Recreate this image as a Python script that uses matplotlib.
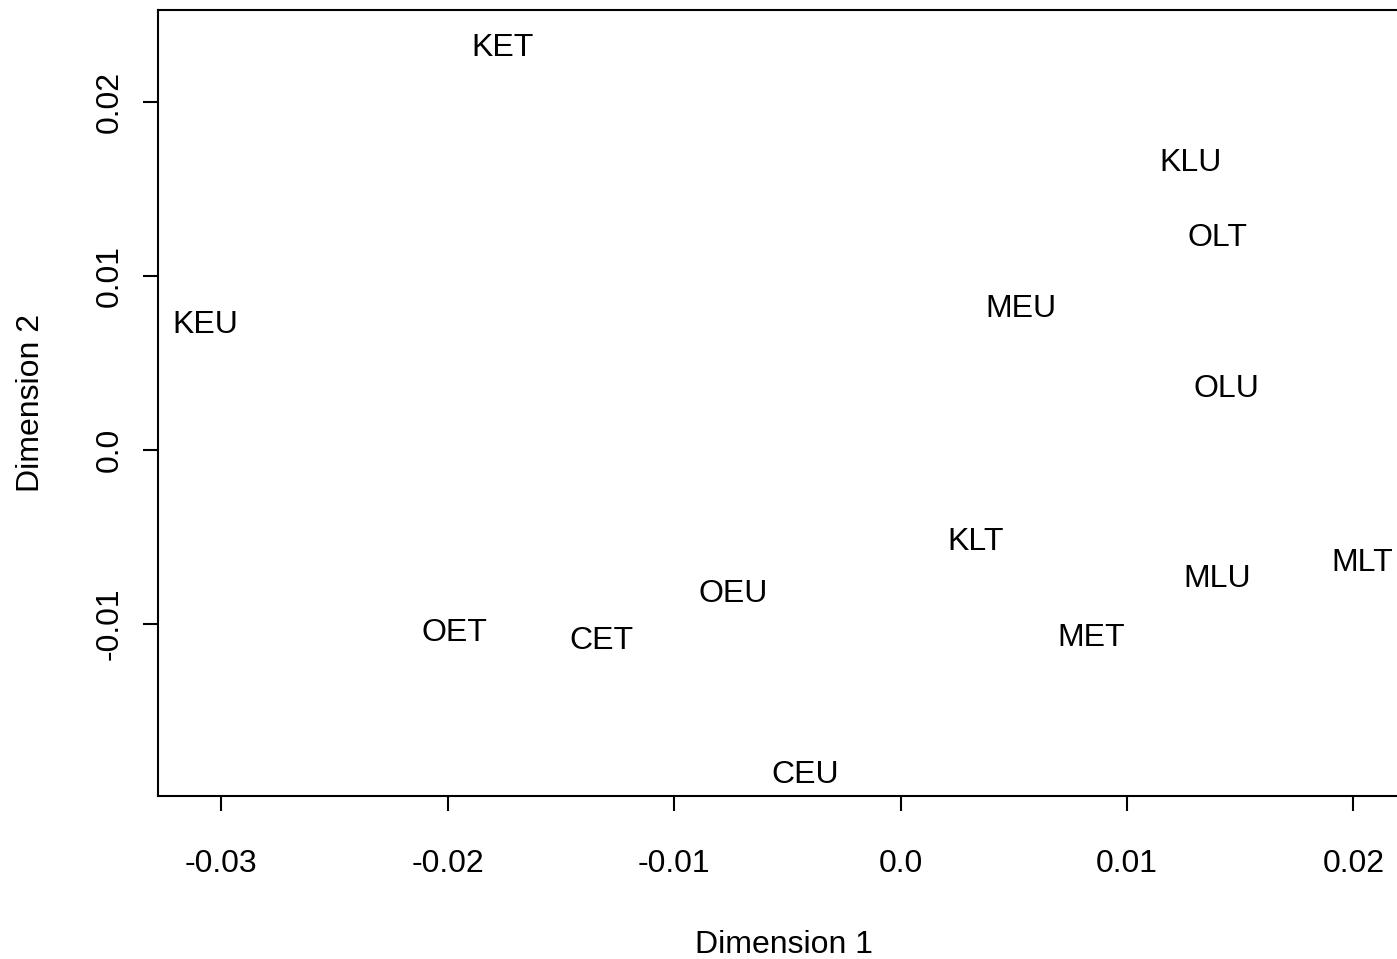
import matplotlib
matplotlib.use('Agg')
import matplotlib.pyplot as plt

plt.rcParams['font.family'] = ['Liberation Sans', 'DejaVu Sans']

# MDS configuration (Dimension 1, Dimension 2)
labels = ['KET', 'KLU', 'OLT', 'MEU', 'KEU', 'OLU', 'KLT', 'MLT',
          'MLU', 'OEU', 'OET', 'CET', 'MET', 'CEU']
dim1 = [-0.0176, 0.0128, 0.0140, 0.0053, -0.0307, 0.0144, 0.0033, 0.0204,
        0.0140, -0.0074, -0.0197, -0.0132, 0.0084, -0.0042]
dim2 = [0.0233, 0.0167, 0.0124, 0.0083, 0.0074, 0.0037, -0.0051, -0.0063,
        -0.0072, -0.0081, -0.0103, -0.0108, -0.0106, -0.0185]

xticks = [-0.03, -0.02, -0.01, 0.0, 0.01, 0.02]
xticklabels = ['-0.03', '-0.02', '-0.01', '0.0', '0.01', '0.02']
yticks = [-0.01, 0.0, 0.01, 0.02]
yticklabels = ['-0.01', '0.0', '0.01', '0.02']

FS = 23
fig = plt.figure(figsize=(13.97, 9.59), dpi=100)
ax = fig.add_axes([0.1131, 0.170, 0.8962, 0.8196])

for lab, x, y in zip(labels, dim1, dim2):
    ax.annotate(lab, (x, y), xytext=(0, -8.3), textcoords='offset points',
                ha='center', va='baseline', fontsize=FS)

ax.set_xlim(-0.0328, 0.0225)
ax.set_ylim(-0.0199, 0.0253)
ax.set_xticks(xticks)
ax.set_xticklabels(xticklabels)
ax.set_yticks(yticks)
ax.set_yticklabels(yticklabels, rotation=90, va='center')

for s in ax.spines.values():
    s.set_linewidth(1.5)
ax.tick_params(axis='x', direction='out', length=11, width=1.5, pad=27, labelsize=FS)
ax.tick_params(axis='y', direction='out', length=11, width=1.5, pad=13, labelsize=FS)

ax.set_xlabel('Dimension 1', fontsize=FS, va='baseline')
ax.xaxis.set_label_coords(0.5, -0.2)
ax.set_ylabel('Dimension 2', fontsize=FS, va='baseline')
ax.yaxis.set_label_coords(-0.095, 0.5)

fig.savefig('out.png', dpi=100)
